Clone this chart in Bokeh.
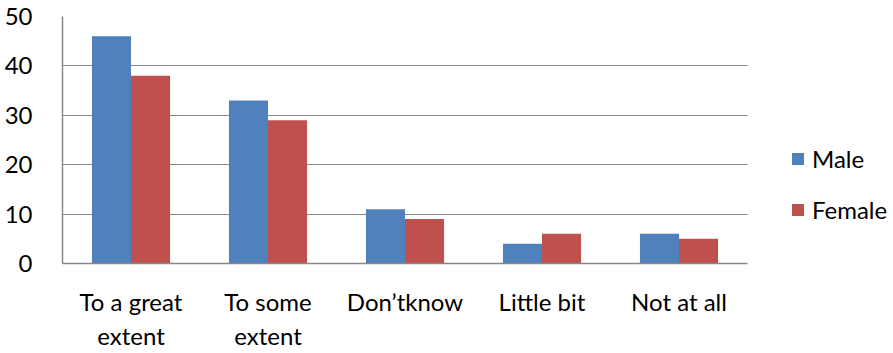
from bokeh.plotting import figure
from bokeh.models import ColumnDataSource, Range1d, FixedTicker, Legend, LegendItem
from bokeh.transform import dodge
from bokeh.embed import file_html
from bokeh.resources import INLINE

categories = ["To a great\nextent", "To some\nextent", "Don\u2019tknow", "Little bit", "Not at all"]
male = [46, 33, 11, 4, 6]
female = [38, 29, 9, 6, 5]
y_ticks = [0, 10, 20, 30, 40, 50]

idx = list(range(len(categories)))
src = ColumnDataSource(dict(x=idx, male=male, female=female))

n = len(categories)
plot_px = 685.0          # width of the plotting area in pixels
frame_px = 893 - 62      # frame includes the legend area on the right
x_start = -0.5
x_end = x_start + n * frame_px / plot_px

p = figure(x_range=Range1d(x_start, x_end), y_range=Range1d(0, 50),
           width=893, height=353, output_backend="svg", toolbar_location=None,
           min_border_left=62, min_border_right=0, min_border_top=16, min_border_bottom=89)

bw = 0.285
r1 = p.vbar(x=dodge("x", -bw / 2), top="male", width=bw, source=src,
            fill_color="#4F81BD", line_color=None)
r2 = p.vbar(x=dodge("x", bw / 2), top="female", width=bw, source=src,
            fill_color="#C0504D", line_color=None)

p.outline_line_color = None
p.xgrid.grid_line_color = None
p.ygrid.grid_line_color = "#878787"
p.ygrid.grid_line_width = 1
p.ygrid.ticker = FixedTicker(ticks=y_ticks)
if hasattr(p.ygrid[0], "cross_bounds"):
    p.ygrid.cross_bounds = (x_start, x_start + n)
else:
    p.ygrid.grid_line_color = None
    p.segment(x0=[x_start] * len(y_ticks), x1=[x_start + n] * len(y_ticks),
              y0=y_ticks, y1=y_ticks, line_color="#878787", line_width=1)

p.yaxis.ticker = FixedTicker(ticks=y_ticks)
p.xaxis.ticker = FixedTicker(ticks=idx)
p.xaxis.major_label_overrides = {i: c for i, c in zip(idx, categories)}
p.xaxis.bounds = (x_start, x_start + n)

for ax in (p.xaxis[0], p.yaxis[0]):
    ax.axis_line_color = "#878787"
    ax.axis_line_width = 1.5
    ax.major_tick_line_color = None
    ax.minor_tick_line_color = None
    ax.major_label_text_font = "Lato"
    ax.major_label_text_font_size = "24px"
    ax.major_label_text_color = "#000000"

p.yaxis.major_label_standoff = 24
p.xaxis.major_label_standoff = 17

legend = Legend(items=[LegendItem(label="Male", renderers=[r1]),
                       LegendItem(label="Female", renderers=[r2])],
                location=(728, 39), orientation="vertical",
                border_line_color=None, background_fill_alpha=0,
                glyph_width=15, glyph_height=15, label_height=26,
                spacing=22, label_standoff=7, padding=0, margin=0,
                label_text_font="Lato", label_text_font_size="24px",
                label_text_color="#000000")
p.add_layout(legend, "center")

open("out.html", "w").write(file_html(p, INLINE))
